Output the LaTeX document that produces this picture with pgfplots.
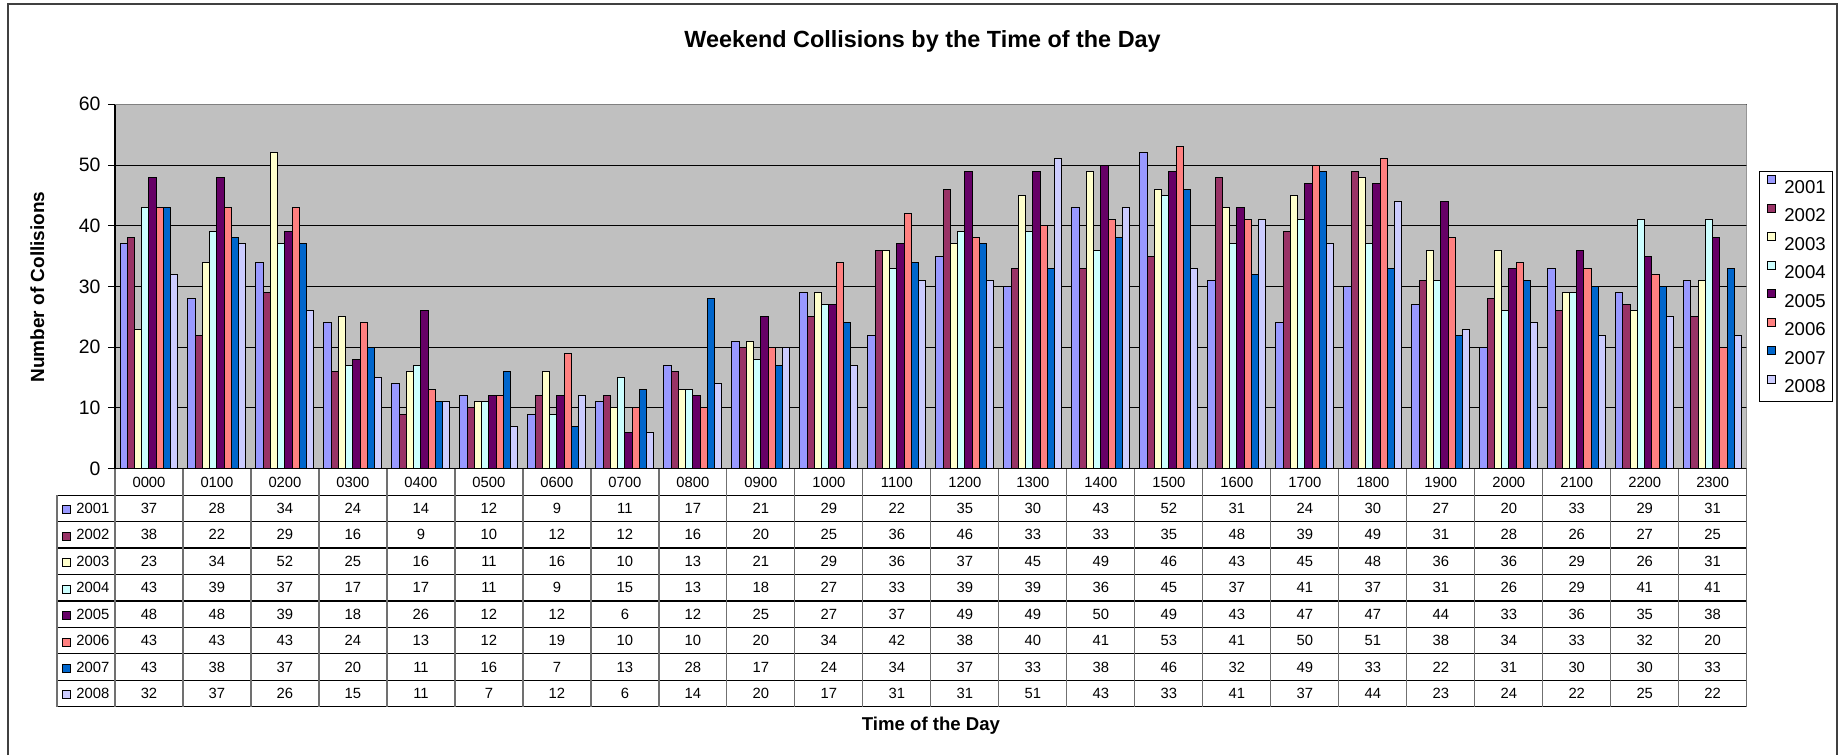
\documentclass[border=0pt]{standalone}
\usepackage{fontspec}
\setmainfont{Liberation Sans}
\usepackage{pgfplots}
\usepackage{pgfplotstable}
\pgfplotsset{compat=1.18}
\definecolor{cA}{HTML}{9999FF}
\definecolor{cB}{HTML}{993366}
\definecolor{cC}{HTML}{FFFFCC}
\definecolor{cD}{HTML}{CCFFFF}
\definecolor{cE}{HTML}{660066}
\definecolor{cF}{HTML}{FF8080}
\definecolor{cG}{HTML}{0066CC}
\definecolor{cH}{HTML}{CCCCFF}
\definecolor{plotgray}{HTML}{C0C0C0}
\definecolor{framegray}{HTML}{404040}
\definecolor{tabline}{HTML}{707070}
\newcommand\tabfont{\fontsize{7.4}{8.5}\selectfont}
\newcommand\tickfont{\fontsize{9.7}{11}\selectfont}
\newcommand\legfont{\fontsize{9.3}{11}\selectfont}
\newcommand\labfont{\fontsize{9.3}{11}\selectfont\bfseries}
\newcommand\ylabfont{\fontsize{9.5}{11}\selectfont\bfseries}
\newcommand\titlefont{\fontsize{11.7}{14}\selectfont\bfseries}
\pgfplotstableread{
x lab a b c d e f g h
0 0000 37 38 23 43 48 43 43 32
1 0100 28 22 34 39 48 43 38 37
2 0200 34 29 52 37 39 43 37 26
3 0300 24 16 25 17 18 24 20 15
4 0400 14 9 16 17 26 13 11 11
5 0500 12 10 11 11 12 12 16 7
6 0600 9 12 16 9 12 19 7 12
7 0700 11 12 10 15 6 10 13 6
8 0800 17 16 13 13 12 10 28 14
9 0900 21 20 21 18 25 20 17 20
10 1000 29 25 29 27 27 34 24 17
11 1100 22 36 36 33 37 42 34 31
12 1200 35 46 37 39 49 38 37 31
13 1300 30 33 45 39 49 40 33 51
14 1400 43 33 49 36 50 41 38 43
15 1500 52 35 46 45 49 53 46 33
16 1600 31 48 43 37 43 41 32 41
17 1700 24 39 45 41 47 50 49 37
18 1800 30 49 48 37 47 51 33 44
19 1900 27 31 36 31 44 38 22 23
20 2000 20 28 36 26 33 34 31 24
21 2100 33 26 29 29 36 33 30 22
22 2200 29 27 26 41 35 32 30 25
23 2300 31 25 31 41 38 20 33 22
}\data
\begin{document}
\begin{tikzpicture}
\useasboundingbox (0,0) rectangle (923.5pt,-377.5pt);
\draw[framegray, line width=1.2pt] (4pt,-377.5pt) -- (4pt,-2pt) -- (918.5pt,-2pt) -- (918.5pt,-377.5pt);
\node[font=\titlefont] at (461.25pt,-20.6pt) {Weekend Collisions by the Time of the Day};
\node[font=\ylabfont, rotate=90] at (18.7pt,-143.5pt) {Number of Collisions};
\node[font=\labfont] at (465.5pt,-362.8pt) {Time of the Day};
\begin{axis}[
  at={(57.5pt,-234.35pt)}, anchor=south west,
  scale only axis, width=815.85pt, height=182.2pt,
  xmin=-0.5, xmax=23.5, ymin=0, ymax=60,
  ybar, bar width=0.1066,
  xtick=\empty,
  ytick={0,10,...,60},
  ymajorgrids, grid style={black, line width=0.5pt},
  axis x line*=bottom, axis y line*=left,
  axis line style={black, line width=0.6pt, -},
  tick align=outside, major tick length=3.3pt,
  tick style={black, line width=0.5pt},
  yticklabel style={font=\tickfont, xshift=-0.5pt},
  /pgf/number format/assume math mode=true,
  axis background/.style={fill=plotgray},
  every axis plot/.append style={draw=black, line width=0.5pt},
]
\addplot[fill=cA, bar shift=-0.3731] table[x=x,y=a]{\data};
\addplot[fill=cB, bar shift=-0.2665] table[x=x,y=b]{\data};
\addplot[fill=cC, bar shift=-0.1599] table[x=x,y=c]{\data};
\addplot[fill=cD, bar shift=-0.0533] table[x=x,y=d]{\data};
\addplot[fill=cE, bar shift=0.0533] table[x=x,y=e]{\data};
\addplot[fill=cF, bar shift=0.1599] table[x=x,y=f]{\data};
\addplot[fill=cG, bar shift=0.2665] table[x=x,y=g]{\data};
\addplot[fill=cH, bar shift=0.3731] table[x=x,y=h]{\data};
\draw[gray, line width=0.6pt] (rel axis cs:0,1) -- (rel axis cs:1,1) -- (rel axis cs:1,0);
\end{axis}
\begin{axis}[
  at={(57.5pt,-234.35pt)}, anchor=south west,
  scale only axis, width=815.85pt, height=182.2pt,
  xmin=0, xmax=1, ymin=0, ymax=1, hide axis,
  legend image code/.code={\draw[#1, line width=0.4pt] (0pt,1.35pt) rectangle (4pt,5.35pt);},
  legend style={at={(1.00754,0.8178)}, anchor=north west, draw=black,
    line width=0.5pt, fill=white, font=\legfont, inner xsep=3.5pt, inner ysep=0.5pt,
    row sep=0pt, column sep=4.5pt,
    nodes={inner sep=0pt, text height=10.48pt, text depth=3.78pt}},
  legend cell align=left,
]
\addlegendimage{fill=cA, draw=black}
\addlegendimage{fill=cB, draw=black}
\addlegendimage{fill=cC, draw=black}
\addlegendimage{fill=cD, draw=black}
\addlegendimage{fill=cE, draw=black}
\addlegendimage{fill=cF, draw=black}
\addlegendimage{fill=cG, draw=black}
\addlegendimage{fill=cH, draw=black}
\legend{2001,2002,2003,2004,2005,2006,2007,2008}
\end{axis}
\begin{axis}[
  at={(57.5pt,-234.35pt)}, anchor=north west,
  scale only axis, width=815.85pt, height=119pt,
  xmin=-0.5, xmax=23.5, ymin=0, ymax=9, y dir=reverse,
  hide axis, clip=false,
  every node near coord/.append style={font=\tabfont, anchor=center, inner sep=0pt},
]
\pgfplotsinvokeforeach{1,...,9}{\draw[black, line width=0.6pt] (axis cs:-1.353,#1) -- (axis cs:23.5,#1);}
\pgfplotsinvokeforeach{-0.5,0.5,...,23.5}{\draw[tabline, line width=0.6pt] (axis cs:#1,0) -- (axis cs:#1,9);}
\draw[tabline, line width=0.6pt] (axis cs:-1.353,1) -- (axis cs:-1.353,9);
\addplot[draw=none, mark=none, nodes near coords, point meta=explicit symbolic] table[x=x, y expr=0.5, meta=lab]{\data};
\addplot[draw=none, mark=none, nodes near coords, point meta=explicit symbolic] table[x=x, y expr=1.5, meta=a]{\data};
\addplot[draw=none, mark=none, nodes near coords, point meta=explicit symbolic] table[x=x, y expr=2.5, meta=b]{\data};
\addplot[draw=none, mark=none, nodes near coords, point meta=explicit symbolic] table[x=x, y expr=3.5, meta=c]{\data};
\addplot[draw=none, mark=none, nodes near coords, point meta=explicit symbolic] table[x=x, y expr=4.5, meta=d]{\data};
\addplot[draw=none, mark=none, nodes near coords, point meta=explicit symbolic] table[x=x, y expr=5.5, meta=e]{\data};
\addplot[draw=none, mark=none, nodes near coords, point meta=explicit symbolic] table[x=x, y expr=6.5, meta=f]{\data};
\addplot[draw=none, mark=none, nodes near coords, point meta=explicit symbolic] table[x=x, y expr=7.5, meta=g]{\data};
\addplot[draw=none, mark=none, nodes near coords, point meta=explicit symbolic] table[x=x, y expr=8.5, meta=h]{\data};
\node[draw=black, fill=cA, line width=0.4pt, minimum size=4pt, inner sep=0pt] at (axis cs:-1.2206,1.55) {};
\node[draw=black, fill=cB, line width=0.4pt, minimum size=4pt, inner sep=0pt] at (axis cs:-1.2206,2.55) {};
\node[draw=black, fill=cC, line width=0.4pt, minimum size=4pt, inner sep=0pt] at (axis cs:-1.2206,3.55) {};
\node[draw=black, fill=cD, line width=0.4pt, minimum size=4pt, inner sep=0pt] at (axis cs:-1.2206,4.55) {};
\node[draw=black, fill=cE, line width=0.4pt, minimum size=4pt, inner sep=0pt] at (axis cs:-1.2206,5.55) {};
\node[draw=black, fill=cF, line width=0.4pt, minimum size=4pt, inner sep=0pt] at (axis cs:-1.2206,6.55) {};
\node[draw=black, fill=cG, line width=0.4pt, minimum size=4pt, inner sep=0pt] at (axis cs:-1.2206,7.55) {};
\node[draw=black, fill=cH, line width=0.4pt, minimum size=4pt, inner sep=0pt] at (axis cs:-1.2206,8.55) {};
\node[anchor=west, font=\tabfont, inner sep=0pt] at (axis cs:-1.0735,1.5) {2001};
\node[anchor=west, font=\tabfont, inner sep=0pt] at (axis cs:-1.0735,2.5) {2002};
\node[anchor=west, font=\tabfont, inner sep=0pt] at (axis cs:-1.0735,3.5) {2003};
\node[anchor=west, font=\tabfont, inner sep=0pt] at (axis cs:-1.0735,4.5) {2004};
\node[anchor=west, font=\tabfont, inner sep=0pt] at (axis cs:-1.0735,5.5) {2005};
\node[anchor=west, font=\tabfont, inner sep=0pt] at (axis cs:-1.0735,6.5) {2006};
\node[anchor=west, font=\tabfont, inner sep=0pt] at (axis cs:-1.0735,7.5) {2007};
\node[anchor=west, font=\tabfont, inner sep=0pt] at (axis cs:-1.0735,8.5) {2008};
\end{axis}
\end{tikzpicture}
\end{document}
